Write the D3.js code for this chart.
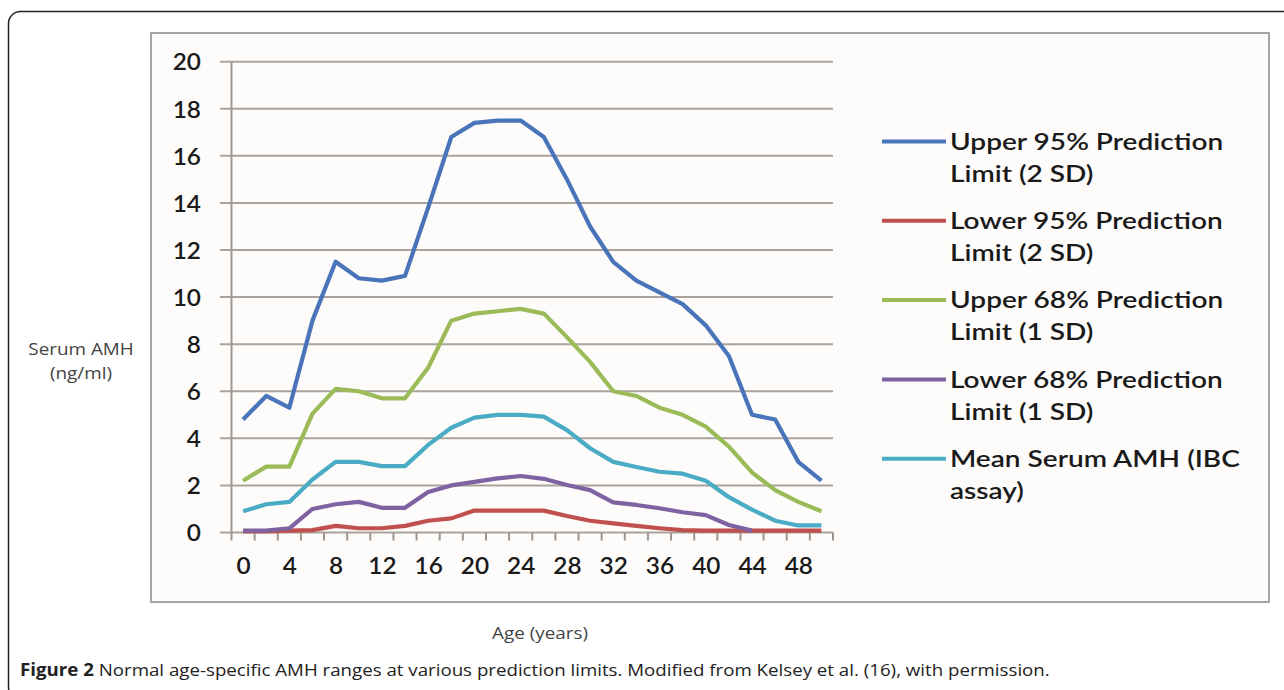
<!DOCTYPE html>
<html>
<head>
<meta charset="utf-8">
<script src="https://cdn.jsdelivr.net/npm/d3@7/dist/d3.min.js"></script>
<style>
  body { margin: 0; background: #fff; }
  svg { display: block; }
  .axis path, .axis line { display: none; }
</style>
</head>
<body>
<svg id="chart" width="1284" height="690"></svg>
<script>
// ages on the category axis (every 2 years)
const ages = d3.range(0, 52, 2);
const xLabels = [0, 4, 8, 12, 16, 20, 24, 28, 32, 36, 40, 44, 48];
const yTicks = [0, 2, 4, 6, 8, 10, 12, 14, 16, 18, 20];

// values (ng/ml)
const upper95 = [4.8, 5.8, 5.3, 9.0, 11.5, 10.8, 10.7, 10.9, 13.8, 16.8, 17.4, 17.5, 17.5,
                 16.8, 15.0, 13.0, 11.5, 10.7, 10.2, 9.7, 8.8, 7.5, 5.0, 4.8, 3.0, 2.2];
const lower95 = [0.05, 0.05, 0.08, 0.1, 0.28, 0.18, 0.18, 0.28, 0.5, 0.6, 0.93, 0.93, 0.93,
                 0.93, 0.7, 0.5, 0.39, 0.28, 0.18, 0.1, 0.08, 0.08, 0.08, 0.08, 0.08, 0.08];
const upper68 = [2.2, 2.8, 2.8, 5.05, 6.1, 6.0, 5.7, 5.7, 7.0, 9.0, 9.3, 9.4, 9.5,
                 9.3, 8.3, 7.25, 6.0, 5.8, 5.3, 5.0, 4.5, 3.65, 2.55, 1.8, 1.3, 0.9];
const lower68 = [0.08, 0.08, 0.18, 1.0, 1.2, 1.3, 1.05, 1.05, 1.72, 2.0, 2.15, 2.3, 2.4,
                 2.28, 2.02, 1.8, 1.28, 1.17, 1.03, 0.86, 0.74, 0.32, 0.08, null, null, null];
const meanAmh = [0.9, 1.2, 1.3, 2.25, 3.0, 3.0, 2.82, 2.82, 3.72, 4.45, 4.88, 5.0, 5.0,
                 4.92, 4.35, 3.58, 3.0, 2.78, 2.58, 2.5, 2.2, 1.5, 0.97, 0.5, 0.3, 0.3];

const seriesNames = [
  ["Upper 95% Prediction", "Limit (2 SD)"],
  ["Lower 95% Prediction", "Limit (2 SD)"],
  ["Upper 68% Prediction", "Limit (1 SD)"],
  ["Lower 68% Prediction", "Limit (1 SD)"],
  ["Mean Serum AMH (IBC", "assay)"]
];
const seriesColors = ["#4a74b9", "#c0504d", "#9bbb59", "#7f62a1", "#4aabc5"];
const seriesValues = [upper95, lower95, upper68, lower68, meanAmh];

const svg = d3.select("#chart");
const font = "Lato, 'Open Sans', sans-serif";
const stretch = 1.18;   // the source picture is a bit wider than tall

// outer figure frame (runs off the right/bottom of the page)
svg.append("rect")
  .attr("x", 8.5).attr("y", 11.5)
  .attr("width", 1300).attr("height", 688)
  .attr("rx", 12)
  .attr("fill", "#fff")
  .attr("stroke", "#222").attr("stroke-width", 1.5);

// chart image frame
svg.append("rect")
  .attr("x", 151).attr("y", 33)
  .attr("width", 1118).attr("height", 569)
  .attr("fill", "#fdfcfb")
  .attr("stroke", "#a8a6a4").attr("stroke-width", 2);

// scales
const x = d3.scaleBand().domain(ages).range([231.5, 833]).padding(0);
const y = d3.scaleLinear().domain([0, 20]).range([532.5, 61.7]);
const cx = a => x(a) + x.bandwidth() / 2;

// gridlines (extend left past the axis as tick marks)
svg.append("g").selectAll("line")
  .data(yTicks)
  .join("line")
  .attr("x1", 220).attr("x2", 833)
  .attr("y1", d => y(d)).attr("y2", d => y(d))
  .attr("stroke", "#aaa29b").attr("stroke-width", 2);

// y axis line
svg.append("line")
  .attr("x1", 231.5).attr("x2", 231.5)
  .attr("y1", y(20)).attr("y2", y(0) + 1)
  .attr("stroke", "#9e958e").attr("stroke-width", 2);

// x tick marks on category boundaries
const boundaries = ages.map(a => x(a)).concat([x.range()[1]]);
svg.append("g").selectAll("line")
  .data(boundaries)
  .join("line")
  .attr("x1", d => d).attr("x2", d => d)
  .attr("y1", y(0)).attr("y2", y(0) + 8)
  .attr("stroke", "#9e958e").attr("stroke-width", 2);

// y tick labels
svg.append("g")
  .attr("class", "axis")
  .attr("transform", "translate(201,0)")
  .call(d3.axisLeft(y).tickValues(yTicks).tickSize(0).tickPadding(0))
  .call(g => g.selectAll("text")
    .attr("font-family", font).attr("font-size", 23).attr("font-weight", 600)
    .attr("fill", "#1a1a1a").attr("dy", "0.36em")
    .attr("transform", "scale(1.06,1)"));

// x tick labels
const xLabelScale = d3.scalePoint().domain(ages).range([cx(0), cx(50)]);
svg.append("g")
  .attr("class", "axis")
  .attr("transform", `translate(0,${y(0) + 25})`)
  .call(d3.axisBottom(xLabelScale).tickValues(xLabels).tickSize(0).tickPadding(0))
  .call(g => g.selectAll("text")
    .attr("font-family", font).attr("font-size", 23).attr("font-weight", 600)
    .attr("fill", "#1a1a1a").attr("dy", "0.71em")
    .attr("transform", "scale(1.06,1)"));

// series lines
const line = d3.line()
  .defined(d => d.v != null)
  .x(d => cx(d.a))
  .y(d => y(d.v));

seriesValues.forEach((vals, i) => {
  svg.append("path")
    .datum(ages.map((a, j) => ({ a, v: vals[j] })))
    .attr("d", line)
    .attr("fill", "none")
    .attr("stroke", seriesColors[i])
    .attr("stroke-width", 4.2)
    .attr("stroke-linejoin", "round");
});

// legend
const legendTop = 141.5, legendStep = 79.3;
const legend = svg.append("g");
seriesNames.forEach((lines, i) => {
  const ly = legendTop + i * legendStep;
  legend.append("line")
    .attr("x1", 882).attr("x2", 946)
    .attr("y1", ly).attr("y2", ly)
    .attr("stroke", seriesColors[i]).attr("stroke-width", 4);
  lines.forEach((t, k) => {
    legend.append("text")
      .attr("transform", `translate(950,${ly + k * 32}) scale(1.22,1)`)
      .attr("dy", "0.36em")
      .attr("font-family", font).attr("font-size", 23).attr("font-weight", 600)
      .attr("fill", "#1a1a1a")
      .text(t);
  });
});

// axis titles
const titleFont = "'Open Sans', sans-serif";
[["Serum AMH", 349], ["(ng/ml)", 373]].forEach(([t, ty]) => {
  svg.append("text")
    .attr("transform", `translate(81,${ty}) scale(${stretch},1)`)
    .attr("dy", "0.36em")
    .attr("text-anchor", "middle")
    .attr("font-family", titleFont).attr("font-size", 16)
    .attr("fill", "#444")
    .text(t);
});
svg.append("text")
  .attr("transform", `translate(540,633) scale(${stretch},1)`)
  .attr("dy", "0.36em")
  .attr("text-anchor", "middle")
  .attr("font-family", titleFont).attr("font-size", 16)
  .attr("fill", "#444")
  .text("Age (years)");

// figure caption
const caption = svg.append("text")
  .attr("transform", "translate(20,676) scale(1.10,1)")
  .attr("font-family", titleFont).attr("font-size", 17)
  .attr("fill", "#222");
caption.append("tspan").attr("font-weight", "bold").text("Figure 2");
caption.append("tspan")
  .text(" Normal age-specific AMH ranges at various prediction limits. Modified from Kelsey et al. (16), with permission.");
</script>
</body>
</html>
